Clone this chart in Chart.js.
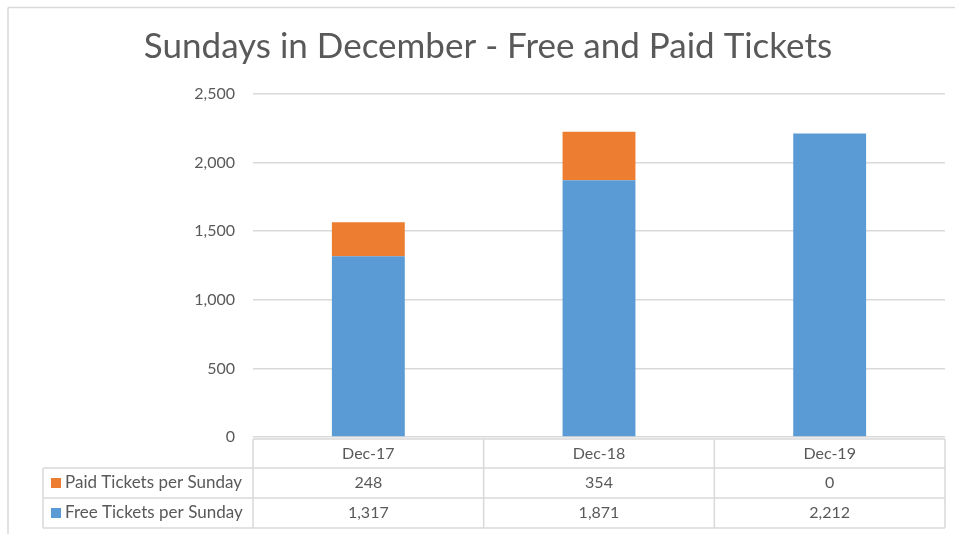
<!DOCTYPE html>
<html lang="en">
<head>
  <meta charset="UTF-8" />
  <title>Sundays in December - Free and Paid Tickets</title>
  <script src="https://cdn.jsdelivr.net/npm/chart.js"></script>
  <style>
    * { box-sizing: border-box; margin: 0; padding: 0; }
    body { background: #ffffff; width: 955px; height: 534px; overflow: hidden; }
    #wrap { position: relative; width: 955px; height: 534px; }
  </style>
</head>
<body>
  <div id="wrap">
    <canvas id="ticketsChart" width="955" height="534"></canvas>
  </div>

  <script>
    const categories = ['Dec-17', 'Dec-18', 'Dec-19'];
    const paidTickets = [248, 354, 0];
    const freeTickets = [1317, 1871, 2212];
    const paidLabel = 'Paid Tickets per Sunday';
    const freeLabel = 'Free Tickets per Sunday';
    const yMax = 2500;
    const yStep = 500;

    const textColor = '#595959';
    const lineColor = '#D9D9D9';
    const blue = '#5B9BD5';
    const orange = '#ED7D31';
    const fontFamily = "Lato, 'Open Sans', sans-serif";

    const fmt = v => v.toLocaleString('en-US');

    // frame, title and the data table under the plot
    const tablePlugin = {
      id: 'tablePlugin',
      afterDraw(chart) {
        const ctx = chart.ctx;
        const area = chart.chartArea;
        const x = chart.scales.x;
        const colW = (area.right - area.left) / categories.length;
        const rowTops = [439, 468, 498, 528];
        const legendLeft = 43;

        ctx.save();
        // outer frame (top and left edges only visible)
        ctx.strokeStyle = lineColor;
        ctx.lineWidth = 1.5;
        ctx.beginPath();
        ctx.moveTo(8, 7.5); ctx.lineTo(955, 7.5);
        ctx.moveTo(8, 7.5); ctx.lineTo(8, 534);
        ctx.stroke();

        // title
        ctx.fillStyle = textColor;
        ctx.font = `35px ${fontFamily}`;
        ctx.textAlign = 'center';
        ctx.textBaseline = 'middle';
        ctx.fillText('Sundays in December - Free and Paid Tickets', 488, 47);

        // table grid
        ctx.strokeStyle = lineColor;
        ctx.lineWidth = 1.5;
        ctx.beginPath();
        ctx.moveTo(area.left, rowTops[0]); ctx.lineTo(area.right, rowTops[0]);
        for (let r = 1; r < rowTops.length; r++) {
          ctx.moveTo(legendLeft, rowTops[r]); ctx.lineTo(area.right, rowTops[r]);
        }
        for (let c = 0; c <= categories.length; c++) {
          const cx = area.left + c * colW;
          ctx.moveTo(cx, rowTops[0]); ctx.lineTo(cx, rowTops[3]);
        }
        ctx.moveTo(legendLeft, rowTops[1]); ctx.lineTo(legendLeft, rowTops[3]);
        ctx.stroke();

        // table text
        ctx.font = `16px ${fontFamily}`;
        ctx.fillStyle = textColor;
        ctx.textAlign = 'center';
        categories.forEach((cat, i) => {
          const cx = x.getPixelForValue(i);
          ctx.fillText(cat, cx, (rowTops[0] + rowTops[1]) / 2);
          ctx.fillText(fmt(paidTickets[i]), cx, (rowTops[1] + rowTops[2]) / 2);
          ctx.fillText(fmt(freeTickets[i]), cx, (rowTops[2] + rowTops[3]) / 2);
        });

        // legend keys
        ctx.font = `17px ${fontFamily}`;
        const rows = [[orange, paidLabel], [blue, freeLabel]];
        rows.forEach(([color, label], r) => {
          const cy = (rowTops[r + 1] + rowTops[r + 2]) / 2;
          ctx.fillStyle = color;
          ctx.fillRect(51, cy - 5, 10, 10);
          ctx.fillStyle = textColor;
          ctx.textAlign = 'left';
          ctx.fillText(label, 65, cy);
        });
        ctx.restore();
      }
    };

    const ctx = document.getElementById('ticketsChart').getContext('2d');
    const chart = new Chart(ctx, {
      type: 'bar',
      data: {
        labels: categories,
        datasets: [
          {
            label: freeLabel,
            data: freeTickets,
            backgroundColor: blue,
            barPercentage: 0.316,
            categoryPercentage: 1
          },
          {
            label: paidLabel,
            data: paidTickets,
            backgroundColor: orange,
            barPercentage: 0.316,
            categoryPercentage: 1
          }
        ]
      },
      options: {
        responsive: false,
        animation: false,
        layout: { padding: { top: 94, bottom: 97, left: 0, right: 10 } },
        plugins: {
          legend: { display: false },
          title: { display: false },
          tooltip: { enabled: false }
        },
        scales: {
          x: {
            stacked: true,
            display: false
          },
          y: {
            stacked: true,
            min: 0,
            max: yMax,
            ticks: {
              stepSize: yStep,
              color: textColor,
              padding: 18,
              font: { family: fontFamily, size: 16 },
              callback: v => fmt(v)
            },
            grid: { color: lineColor, lineWidth: 1.5, drawTicks: false },
            border: { display: false },
            afterFit(scale) { scale.width = 253; }
          }
        }
      },
      plugins: [tablePlugin]
    });
  </script>
</body>
</html>
